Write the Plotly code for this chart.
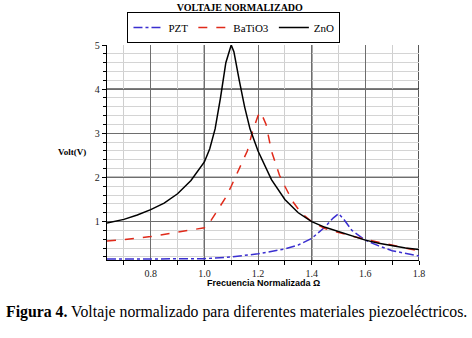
import plotly.graph_objects as go

# ---- data ----
x_znO = [0.637, 0.70, 0.75, 0.80, 0.85, 0.90, 0.95, 1.00, 1.02, 1.04, 1.06, 1.08, 1.10, 1.11, 1.13, 1.15,
         1.17, 1.20, 1.25, 1.30, 1.35, 1.40, 1.45, 1.50, 1.55, 1.60, 1.65, 1.70, 1.75, 1.80]
y_znO = [0.97, 1.05, 1.15, 1.27, 1.42, 1.63, 1.93, 2.35, 2.65, 3.10, 3.80, 4.60, 5.00, 4.85, 4.20, 3.60,
         3.10, 2.60, 1.95, 1.50, 1.20, 1.00, 0.87, 0.77, 0.67, 0.58, 0.51, 0.45, 0.40, 0.37]

x_bat = [0.637, 0.70, 0.80, 0.90, 1.00, 1.02, 1.05, 1.08, 1.10, 1.13, 1.16, 1.18, 1.20, 1.21, 1.23, 1.25,
         1.28, 1.30, 1.33, 1.36, 1.40, 1.45, 1.50, 1.55, 1.60, 1.65, 1.70, 1.75, 1.80]
y_bat = [0.56, 0.59, 0.66, 0.76, 0.86, 0.98, 1.25, 1.55, 1.80, 2.20, 2.60, 3.05, 3.40, 3.48, 3.20, 2.60,
         2.05, 1.80, 1.45, 1.20, 1.00, 0.84, 0.75, 0.67, 0.60, 0.53, 0.46, 0.40, 0.34]

x_pzt = [0.637, 0.80, 0.90, 1.00, 1.10, 1.20, 1.30, 1.35, 1.40, 1.45, 1.48, 1.50, 1.52, 1.55, 1.60,
         1.65, 1.70, 1.75, 1.80]
y_pzt = [0.15, 0.15, 0.155, 0.16, 0.20, 0.27, 0.38, 0.47, 0.62, 0.88, 1.08, 1.18, 1.05, 0.80, 0.58,
         0.45, 0.34, 0.28, 0.22]

x_range = [0.637, 1.8]
y_range = [0.13, 5.0]
x_black_grid = [1.0, 1.4, 1.8]
y_black_grid = [2, 4]

serif = "Liberation Serif"
sans = "Liberation Sans"

fig = go.Figure()
fig.add_trace(go.Scatter(x=x_pzt, y=y_pzt, mode="lines", name="PZT",
                         line=dict(color="#3a2fd0", width=1.5, dash="dashdot")))
fig.add_trace(go.Scatter(x=x_bat, y=y_bat, mode="lines", name="BaTiO3",
                         line=dict(color="#e02a1a", width=1.5, dash="dash")))
fig.add_trace(go.Scatter(x=x_znO, y=y_znO, mode="lines", name="ZnO",
                         line=dict(color="black", width=1.5)))

shapes = []
for xv in x_black_grid:
    shapes.append(dict(type="line", xref="x", yref="paper", x0=xv, x1=xv, y0=0, y1=1,
                       line=dict(color="black", width=1.3), layer="below"))
for yv in y_black_grid:
    shapes.append(dict(type="line", xref="paper", yref="y", x0=0, x1=1, y0=yv, y1=yv,
                       line=dict(color="black", width=1.3), layer="below"))

fig.update_layout(
    width=472, height=338,
    margin=dict(l=107, r=53, t=39, b=78),
    paper_bgcolor="white", plot_bgcolor="white",
    showlegend=True,
    title=dict(text="<b>VOLTAJE NORMALIZADO</b>", x=0.508, xref="container", xanchor="center",
               y=0.979, yref="container", yanchor="middle",
               font=dict(family=serif, size=10, color="black")),
    legend=dict(orientation="h", x=0.407, xanchor="center", y=1.081, yanchor="middle",
                bordercolor="black", borderwidth=1, bgcolor="white",
                font=dict(family=serif, size=11, color="black"),
                itemwidth=30, tracegroupgap=0),
    shapes=shapes,
    xaxis=dict(range=x_range, tickvals=[0.8, 1.0, 1.2, 1.4, 1.6, 1.8],
               ticktext=["0.8", "1.0", "1.2", "1.4", "1.6", "1.8"],
               showline=True, linecolor="black", linewidth=1.3,
               ticks="outside", ticklen=4, tickcolor="black",
               showgrid=True, gridcolor="#6e6e6e", gridwidth=1,
               minor=dict(dtick=0.1, tick0=0.7, ticks="outside", ticklen=4, tickcolor="black",
                          showgrid=True, gridcolor="#cfcfcf", gridwidth=1),
               tickfont=dict(family=serif, size=10, color="#222"), zeroline=False),
    yaxis=dict(range=y_range, tickvals=[1, 2, 3, 4, 5],
               showline=True, linecolor="black", linewidth=1.3,
               ticks="outside", ticklen=4, tickcolor="black",
               showgrid=True, gridcolor="#6e6e6e", gridwidth=1,
               minor=dict(dtick=0.2, tick0=0, ticks="outside", ticklen=3, tickcolor="black",
                          showgrid=True, gridcolor="#d4d4d4", gridwidth=1),
               tickfont=dict(family=serif, size=10, color="#222"), zeroline=False),
    annotations=[
        dict(text="<b>Volt(V)</b>", xref="paper", yref="paper", x=-0.112, y=0.502,
             xanchor="center", yanchor="middle", showarrow=False,
             font=dict(family=serif, size=9, color="black")),
        dict(text="<b>Frecuencia Normalizada Ω</b>", xref="paper", yref="paper", x=0.5, y=-0.109,
             xanchor="center", yanchor="middle", showarrow=False,
             font=dict(family=sans, size=9, color="black")),
        dict(text="<b>Figura 4.</b> Voltaje normalizado para diferentes materiales piezoeléctricos.",
             xref="paper", yref="paper", x=-0.330, y=-0.24, xanchor="left", yanchor="middle",
             showarrow=False, font=dict(family=serif, size=15.8, color="black")),
    ],
)

fig.write_html("out.html", config={"displayModeBar": False},
               post_script="document.body.style.margin='0';")
